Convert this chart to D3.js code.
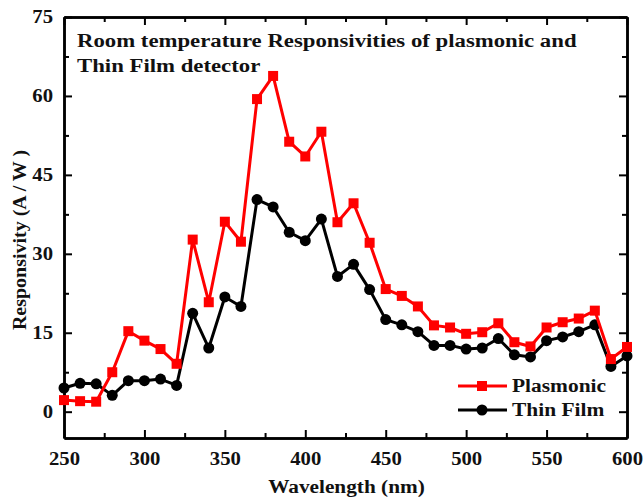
<!DOCTYPE html>
<html>
<head>
<meta charset="utf-8">
<script src="https://cdn.jsdelivr.net/npm/d3@7"></script>
<style>
  body { margin: 0; background: #fff; }
  svg text { font-family: "Liberation Serif", "Times New Roman", serif; font-weight: bold; }
</style>
</head>
<body>
<svg id="chart"></svg>
<script>
const wavelengths = [250, 260, 270, 280, 290, 300, 310, 320, 330, 340, 350, 360, 370, 380, 390, 400,
  410, 420, 430, 440, 450, 460, 470, 480, 490, 500, 510, 520, 530, 540, 550, 560, 570, 580, 590, 600];

const plasmonic = [2.2, 2.0, 1.9, 7.5, 15.3, 13.5, 11.9, 9.1, 32.7, 20.8, 36.1, 32.3, 59.4, 63.8, 51.3, 48.5,
  53.2, 36.0, 39.6, 32.1, 23.3, 22.0, 20.0, 16.4, 16.0, 14.8, 15.1, 16.8, 13.2, 12.4, 16.0, 17.0, 17.7, 19.2, 10.0, 12.3];

const thinFilm = [4.5, 5.4, 5.3, 3.1, 5.9, 5.9, 6.2, 5.0, 18.7, 12.1, 21.8, 20.0, 40.3, 38.9, 34.1, 32.5,
  36.6, 25.7, 28.0, 23.2, 17.5, 16.5, 15.2, 12.6, 12.6, 11.9, 12.1, 13.9, 10.8, 10.4, 13.5, 14.2, 15.2, 16.5, 8.6, 10.6];

const xMajor = [250, 300, 350, 400, 450, 500, 550, 600];
const xMinor = [275, 325, 375, 425, 475, 525, 575];
const yMajor = [0, 15, 30, 45, 60, 75];
const yMinor = [7.5, 22.5, 37.5, 52.5, 67.5];

const titleLines = ["Room temperature Responsivities of plasmonic and", "Thin Film detector"];

const W = 644, H = 499;
const margin = { top: 17, right: 17, bottom: 61, left: 64 };
const width = W - margin.left - margin.right,
      height = H - margin.top - margin.bottom;

const svg = d3.select('#chart')
  .attr('width', W)
  .attr('height', H);

const g = svg.append('g')
  .attr('transform', `translate(${margin.left},${margin.top})`);

const x = d3.scaleLinear().domain([250, 600]).range([0, width]);
const y = d3.scaleLinear().domain([-5, 75]).range([height, 0]);

// the original font is wider than Liberation Serif, so stretch the glyphs a bit
function stretch(sel, k) {
  sel.each(function() {
    const len = this.getComputedTextLength();
    d3.select(this)
      .attr('textLength', len * k)
      .attr('lengthAdjust', 'spacingAndGlyphs');
  });
}

function styleAxis(sel) {
  sel.select('.domain').attr('stroke-width', 2.5);
  sel.selectAll('.tick line').attr('stroke-width', 2);
  sel.selectAll('.tick text').attr('font-size', 18).attr('fill', '#111').call(stretch, 1.15);
}

// bottom
g.append('g')
  .attr('transform', `translate(0,${height})`)
  .call(d3.axisBottom(x).tickValues(xMajor).tickSizeInner(-8).tickSizeOuter(0).tickPadding(14).tickFormat(d3.format('d')))
  .call(styleAxis);
g.append('g')
  .attr('transform', `translate(0,${height})`)
  .call(d3.axisBottom(x).tickValues(xMinor).tickSizeInner(-5).tickSizeOuter(0).tickFormat(''))
  .call(styleAxis);

// top
g.append('g')
  .call(d3.axisTop(x).tickValues(xMajor).tickSizeInner(-8).tickSizeOuter(0).tickFormat(''))
  .call(styleAxis);
g.append('g')
  .call(d3.axisTop(x).tickValues(xMinor).tickSizeInner(-5).tickSizeOuter(0).tickFormat(''))
  .call(styleAxis);

// left
g.append('g')
  .call(d3.axisLeft(y).tickValues(yMajor).tickSizeInner(-8).tickSizeOuter(0).tickPadding(11))
  .call(styleAxis);
g.append('g')
  .call(d3.axisLeft(y).tickValues(yMinor).tickSizeInner(-5).tickSizeOuter(0).tickFormat(''))
  .call(styleAxis);

// right
g.append('g')
  .attr('transform', `translate(${width},0)`)
  .call(d3.axisRight(y).tickValues(yMajor).tickSizeInner(-8).tickSizeOuter(0).tickFormat(''))
  .call(styleAxis);
g.append('g')
  .attr('transform', `translate(${width},0)`)
  .call(d3.axisRight(y).tickValues(yMinor).tickSizeInner(-5).tickSizeOuter(0).tickFormat(''))
  .call(styleAxis);

const line = d3.line()
  .x(d => x(d[0]))
  .y(d => y(d[1]));

const plotArea = g.append('g');

const series = [
  { name: 'Plasmonic', values: plasmonic, color: '#ff0000', shape: 'square' },
  { name: 'Thin Film', values: thinFilm, color: '#000000', shape: 'circle' }
];

function drawMarker(sel, shape, color) {
  if (shape === 'square') {
    sel.append('rect')
      .attr('x', -5).attr('y', -5)
      .attr('width', 10).attr('height', 10)
      .attr('fill', color);
  } else {
    sel.append('circle')
      .attr('r', 5.5)
      .attr('fill', color);
  }
}

// draw thin film first so plasmonic sits above it
series.slice().reverse().forEach(s => {
  const pts = wavelengths.map((w, i) => [w, s.values[i]]);
  plotArea.append('path')
    .datum(pts)
    .attr('fill', 'none')
    .attr('stroke', s.color)
    .attr('stroke-width', 3)
    .attr('stroke-linejoin', 'round')
    .attr('d', line);

  plotArea.selectAll(null)
    .data(pts)
    .enter()
    .append('g')
    .attr('transform', d => `translate(${x(d[0])},${y(d[1])})`)
    .each(function() { drawMarker(d3.select(this), s.shape, s.color); });
});

// title
g.selectAll('.title-line')
  .data(titleLines)
  .enter()
  .append('text')
  .attr('class', 'title-line')
  .attr('x', 13)
  .attr('y', (d, i) => 30 + i * 25)
  .attr('font-size', 18.5)
  .attr('fill', '#111')
  .text(d => d)
  .call(stretch, 1.23);

// legend
const legend = g.append('g')
  .attr('transform', `translate(${394},${369})`);

series.forEach((s, i) => {
  const row = legend.append('g').attr('transform', `translate(0,${i * 24})`);
  row.append('line')
    .attr('x1', 0).attr('x2', 49)
    .attr('stroke', s.color)
    .attr('stroke-width', 3);
  drawMarker(row.append('g').attr('transform', 'translate(24,0)'), s.shape, s.color);
  row.append('text')
    .attr('x', 54)
    .attr('y', 6)
    .attr('font-size', 18)
    .attr('fill', '#111')
    .text(s.name)
    .call(stretch, 1.19);
});

// axis titles
svg.append('text')
  .attr('x', margin.left + width / 2 + 1)
  .attr('y', 493)
  .attr('text-anchor', 'middle')
  .attr('font-size', 18.5)
  .attr('fill', '#111')
  .text('Wavelength (nm)')
  .call(stretch, 1.15);

svg.append('text')
  .attr('transform', `translate(26,240) rotate(-90)`)
  .attr('text-anchor', 'middle')
  .attr('font-size', 18.5)
  .attr('fill', '#111')
  .text('Responsivity (A / W )')
  .call(stretch, 1.08);
</script>
</body>
</html>
